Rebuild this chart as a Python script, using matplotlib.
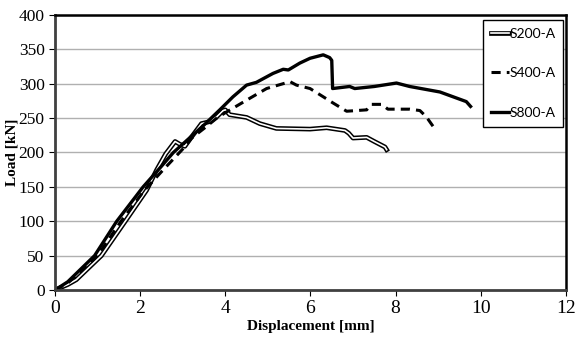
import matplotlib
matplotlib.use("Agg")
import matplotlib.pyplot as plt
import matplotlib.patheffects as pe

# S200-A (double line)
s200_x = [0, 0.3, 0.5, 1.09, 1.65, 2.15, 2.39, 2.6, 2.82, 2.93, 3.05, 3.2, 3.44, 3.64,
          3.8, 3.95, 4.0, 4.1, 4.5, 4.81, 5.2, 5.99, 6.38, 6.81, 6.9, 7.0, 7.32, 7.5,
          7.75, 7.79]
s200_y = [0, 8, 15, 50, 100, 145, 175, 198, 216, 212, 209, 222, 242, 245,
          252, 261, 262, 255, 251, 242, 235, 234, 236, 232, 228, 221, 222, 216,
          208, 204]

# S400-A (dashed)
s400_x = [0, 0.3, 1.0, 1.55, 2.1, 2.5, 3.0, 3.21, 3.5, 3.8, 4.03, 4.58, 4.97, 5.52,
          5.67, 5.99, 6.3, 6.53, 6.85, 7.32, 7.43, 7.67, 7.82, 8.33, 8.57, 8.72, 8.88]
s400_y = [0, 10, 50, 100, 145, 172, 205, 221, 235, 250, 259, 279, 293, 303,
          298, 293, 281, 272, 260, 262, 270, 270, 263, 263, 261, 252, 238]

# S800-A (solid)
s800_x = [0, 0.3, 0.93, 1.45, 2.07, 2.5, 2.78, 3.5, 3.87, 4.18, 4.5, 4.73, 5.12,
          5.36, 5.48, 5.75, 5.99, 6.3, 6.45, 6.5, 6.52, 6.92, 7.04, 7.5, 8.02, 8.33,
          9.04, 9.66, 9.76]
s800_y = [0, 12, 50, 100, 150, 180, 200, 240, 262, 281, 298, 302, 315,
          321, 320, 330, 337, 342, 338, 334, 293, 296, 293, 296, 301, 296,
          288, 274, 267]

plt.rcParams["font.family"] = "Liberation Serif"

fig = plt.figure(figsize=(5.76, 3.40), dpi=100)
ax = fig.add_axes([0.0955, 0.147, 0.887, 0.809])

ax.plot(s200_x, s200_y, color="white", lw=1.2, label="S200-A",
        path_effects=[pe.Stroke(linewidth=3.4, foreground="black"), pe.Normal()])
ax.plot(s400_x, s400_y, color="black", lw=2.2, ls=(0, (3, 2)), label="S400-A")
ax.plot(s800_x, s800_y, color="black", lw=2.4, label="S800-A")

ax.set_xlim(0, 12)
ax.set_ylim(0, 400)
ax.set_xticks(range(0, 13, 2))
ax.set_yticks(range(0, 401, 50))
ax.tick_params(axis="x", labelsize=14, length=4, direction="out")
ax.tick_params(axis="y", labelsize=12.5, length=4, direction="out")
ax.yaxis.grid(True, color="#b0b0b0", lw=1)
ax.set_axisbelow(True)
for side in ["top", "right"]:
    ax.spines[side].set_linewidth(1.8)
    ax.spines[side].set_color("black")
for side in ["left", "bottom"]:
    ax.spines[side].set_linewidth(2.0)
    ax.spines[side].set_color("#404040")

ax.set_xlabel("Displacement [mm]", fontweight="bold", fontsize=11, labelpad=2)
ax.set_ylabel("Load [kN]", fontweight="bold", fontsize=11, labelpad=0)

leg = ax.legend(loc="upper right", bbox_to_anchor=(0.994, 0.982), borderaxespad=0,
                fancybox=False, edgecolor="black", framealpha=1, handlelength=1.3,
                handletextpad=0.0, labelspacing=2.0, borderpad=0.55,
                prop={"family": "Lato", "size": 10})
leg.get_frame().set_linewidth(1.0)

fig.savefig("out.png", dpi=100)
